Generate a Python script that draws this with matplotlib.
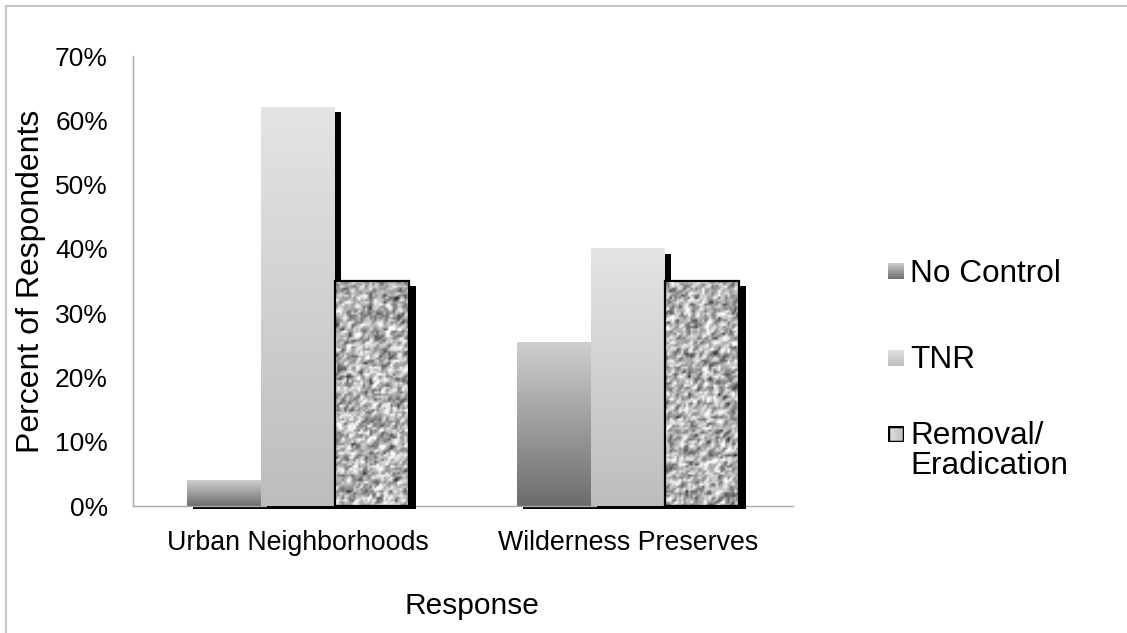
import matplotlib.pyplot as plt
import numpy as np
from matplotlib.patches import Rectangle
from matplotlib.lines import Line2D
from matplotlib.colors import LinearSegmentedColormap

plt.rcParams['font.family'] = ['Liberation Sans', 'DejaVu Sans']

# data (percent of respondents)
categories = ['Urban Neighborhoods', 'Wilderness Preserves']
series_names = ['No Control', 'TNR', 'Removal/\nEradication']
no_control = [4, 25.5]
tnr = [62, 40]
removal = [35, 35]
yticks = [0, 10, 20, 30, 40, 50, 60, 70]

W, H = 1127, 633
fig = plt.figure(figsize=(W / 100, H / 100), dpi=100)
ax = fig.add_axes([133 / W, 1 - 506 / H, 660 / W, 450 / H])
ax.set_xlim(-0.5, 1.5)
ax.set_ylim(0, 70)

# pixel -> data conversions
pxx = 2.0 / 660
pxy = 70.0 / 450

cmap_nc = LinearSegmentedColormap.from_list('nc', ['#6c6c6c', '#cfcfcf'])
cmap_tnr = LinearSegmentedColormap.from_list('tnr', ['#bdbdbd', '#e4e4e4'])
grad = np.linspace(1, 0, 256).reshape(-1, 1)

# speckled texture for removal bars
rng = np.random.default_rng(7)


def texture():
    t = rng.normal(0.7, 0.16, size=(100, 32))
    t = (t + np.roll(t, 1, 0) + np.roll(t, 1, 1)) / 3.0
    t = 0.7 + (t - t.mean()) * 1.9
    return np.clip(t, 0.1, 1.0)


w = 0.224
x = np.arange(len(categories))
data = [no_control, tnr, removal]

for i, vals in enumerate(data):
    offs = (i - 1) * w
    for j, v in enumerate(vals):
        x0 = x[j] + offs - w / 2
        # drop shadow
        ax.add_patch(Rectangle((x0 + 6 * pxx, -2.5 * pxy), w + (1 if i == 2 else 0) * pxx,
                               v - 5 * pxy + 2.5 * pxy, facecolor='black',
                               edgecolor='none', zorder=2 * i + 1, clip_on=False))
        ext = [x0, x0 + w, 0, v]
        if i == 0:
            ax.imshow(grad, extent=ext, aspect='auto', cmap=cmap_nc, vmin=0, vmax=1,
                      zorder=2 * i + 2)
        elif i == 1:
            ax.imshow(grad, extent=ext, aspect='auto', cmap=cmap_tnr, vmin=0, vmax=1,
                      zorder=2 * i + 2)
        else:
            ax.imshow(texture(), extent=ext, aspect='auto', cmap='gray', vmin=0, vmax=1,
                      interpolation='bilinear', zorder=2 * i + 2)
            ax.add_patch(Rectangle((x0, 0), w, v, fill=False, edgecolor='black',
                                   lw=1.6, zorder=2 * i + 2.5))

ax.set_xlim(-0.5, 1.5)
ax.set_ylim(0, 70)
ax.set_yticks(yticks)
ax.set_yticklabels([f'{t}%' for t in yticks], fontsize=19)
ax.set_xticks(x)
ax.set_xticklabels(categories, fontsize=19.3)
ax.tick_params(axis='y', length=0, pad=18)
ax.tick_params(axis='x', length=0, pad=17)
for s in ['top', 'right']:
    ax.spines[s].set_visible(False)
for s in ['left', 'bottom']:
    ax.spines[s].set_color('#a8a8a8')
    ax.spines[s].set_linewidth(1.0)

ax.set_ylabel('Percent of Respondents', fontsize=23)
ax.yaxis.set_label_coords((31 - 133) / 660, 0.5)
ax.set_xlabel('Response', fontsize=21.5)
ax.xaxis.set_label_coords((472 - 133) / 660, (506 - 606) / 450)
ax.xaxis.label.set_va('center')
ax.yaxis.label.set_va('center')

# legend drawn by hand
leg_y = [271, 358, 434]
txt_y = [274, 360, 451]
for k, name in enumerate(series_names):
    s = 16
    lax = fig.add_axes([888 / W, 1 - (leg_y[k] + s / 2) / H, s / W, s / H])
    lax.set_axis_off()
    if k == 0:
        lax.imshow(grad, aspect='auto', cmap=cmap_nc, vmin=0, vmax=1, extent=[0, 1, 0, 1])
    elif k == 1:
        lax.imshow(grad, aspect='auto', cmap=cmap_tnr, vmin=0, vmax=1, extent=[0, 1, 0, 1])
    else:
        lax.imshow(grad.T, aspect='auto', cmap=cmap_tnr, vmin=0, vmax=1, extent=[0, 1, 0, 1])
        lax.add_patch(Rectangle((0, 0), 1, 1, fill=False, edgecolor='black', lw=2.5,
                                transform=lax.transAxes))
    lax.set_xlim(0, 1)
    lax.set_ylim(0, 1)
    fig.text(910 / W, 1 - txt_y[k] / H, name, fontsize=22.7, va='center', ha='left',
             linespacing=1.0)

# chart area border (top and left only visible)
fig.add_artist(Line2D([6 / W, 6 / W], [0, 1 - 6 / H], transform=fig.transFigure,
                      color='#bcbcbc', lw=1.2))
fig.add_artist(Line2D([6 / W, 1], [1 - 6 / H, 1 - 6 / H], transform=fig.transFigure,
                      color='#bcbcbc', lw=1.2))

fig.savefig('out.png', dpi=100)
